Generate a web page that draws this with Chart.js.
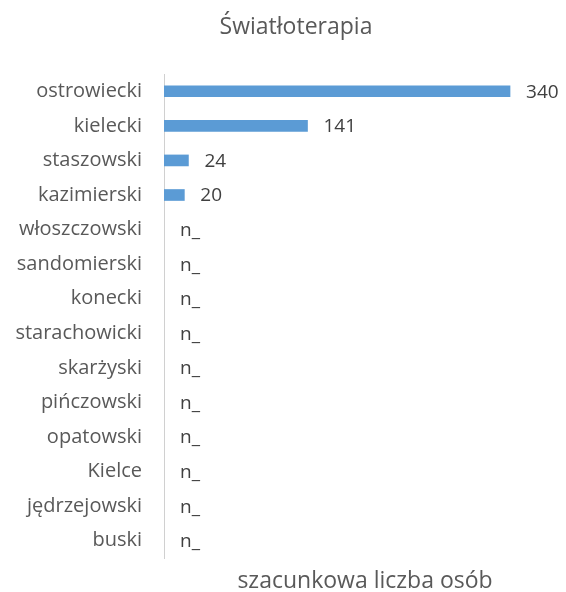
<!DOCTYPE html>
<html>
<head>
<meta charset="utf-8">
<script src="https://cdn.jsdelivr.net/npm/chart.js@4/dist/chart.umd.min.js"></script>
<style>
  html, body { margin: 0; padding: 0; background: #fff; }
  canvas { display: block; }
</style>
</head>
<body>
<canvas id="chartBar" width="566" height="592"></canvas>
<script>
const powiaty = [
  "ostrowiecki", "kielecki", "staszowski", "kazimierski", "włoszczowski",
  "sandomierski", "konecki", "starachowicki", "skarżyski", "pińczowski",
  "opatowski", "Kielce", "jędrzejowski", "buski"
];
// null = brak danych (na wykresie "n_")
const liczbaOsob = [340, 141, 24, 20, null, null, null, null, null, null, null, null, null, null];
const brakDanych = "n_";
const chartTitle = "Światłoterapia";
const axisTitle = "szacunkowa liczba osób";

const fontFamily = "'Open Sans', sans-serif";
const textColor = "#595959";

// value labels at the end of each bar
const barLabels = {
  id: "barLabels",
  afterDatasetsDraw(chart) {
    const ctx = chart.ctx;
    const xScale = chart.scales.x;
    const meta = chart.getDatasetMeta(0);
    ctx.save();
    ctx.font = "19px " + fontFamily;
    ctx.fillStyle = "#404040";
    ctx.textAlign = "left";
    ctx.textBaseline = "middle";
    meta.data.forEach((bar, i) => {
      const v = liczbaOsob[i];
      const x = xScale.getPixelForValue(v == null ? 0 : v) + 16;
      ctx.fillText(v == null ? brakDanych : String(v), x, bar.y + 1);
    });
    ctx.restore();
  }
};

// chart title and axis title drawn by hand (the original is not centred on the canvas)
const titles = {
  id: "titles",
  afterDraw(chart) {
    const ctx = chart.ctx;
    const area = chart.chartArea;
    ctx.save();
    ctx.fillStyle = textColor;
    ctx.textAlign = "center";
    ctx.textBaseline = "middle";
    ctx.font = "23px " + fontFamily;
    ctx.fillText(chartTitle, 296, 27);
    ctx.fillText(axisTitle, (area.left + area.right) / 2, 581);
    ctx.restore();
  }
};

const data = {
  labels: powiaty,
  datasets: [
    {
      label: axisTitle,
      backgroundColor: "#5b9bd5",
      data: liczbaOsob,
      barThickness: 11,
    },
  ],
};

const configBarChart = {
  type: "bar",
  data,
  options: {
    indexAxis: "y",
    responsive: false,
    animation: false,
    layout: { autoPadding: false, padding: { top: 74, left: 0, right: 0, bottom: 25 } },
    plugins: {
      legend: { display: false },
      tooltip: { enabled: false },
      title: { display: false },
    },
    scales: {
      x: {
        display: false,
        min: 0,
        max: 395,
      },
      y: {
        grid: { display: false, drawTicks: false },
        border: { display: true, color: "#d0d0d0", width: 1 },
        ticks: {
          color: textColor,
          font: { family: fontFamily, size: 20 },
          padding: 22,
        },
        afterFit(scale) { scale.width = 164; },
      },
    },
  },
  plugins: [barLabels, titles],
};

var chartBar = new Chart(document.getElementById("chartBar"), configBarChart);
</script>
</body>
</html>
